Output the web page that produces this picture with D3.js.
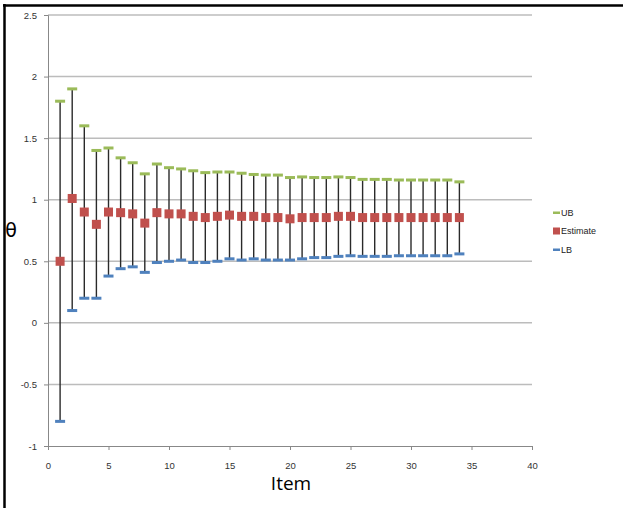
<!DOCTYPE html>
<html>
<head>
<meta charset="utf-8">
<script src="https://cdn.jsdelivr.net/npm/d3@7"></script>
<style>
  html, body { margin: 0; padding: 0; background: #fff; }
  svg { display: block; }
</style>
</head>
<body>
<script>
const items = d3.range(1, 35);
const ub = [1.8, 1.9, 1.6, 1.4, 1.42, 1.34, 1.30, 1.21, 1.29, 1.26, 1.25, 1.235, 1.22, 1.225, 1.225, 1.215, 1.205, 1.2, 1.2, 1.18, 1.185, 1.18, 1.18, 1.185, 1.18, 1.165, 1.165, 1.165, 1.16, 1.16, 1.16, 1.16, 1.16, 1.145];
const est = [0.5, 1.01, 0.9, 0.8, 0.9, 0.895, 0.885, 0.81, 0.895, 0.885, 0.885, 0.865, 0.855, 0.865, 0.875, 0.865, 0.865, 0.855, 0.855, 0.845, 0.855, 0.855, 0.855, 0.865, 0.865, 0.855, 0.855, 0.855, 0.855, 0.855, 0.855, 0.855, 0.855, 0.855];
const lb = [-0.8, 0.1, 0.2, 0.2, 0.38, 0.44, 0.455, 0.41, 0.49, 0.5, 0.51, 0.49, 0.49, 0.5, 0.52, 0.51, 0.52, 0.51, 0.51, 0.51, 0.52, 0.53, 0.53, 0.54, 0.545, 0.54, 0.54, 0.54, 0.545, 0.545, 0.545, 0.545, 0.545, 0.56];
const yTicks = [-1, -0.5, 0, 0.5, 1, 1.5, 2, 2.5];
const xTicks = [0, 5, 10, 15, 20, 25, 30, 35, 40];
const legendLabels = ["UB", "Estimate", "LB"];
const colors = { UB: "#9BBB59", Estimate: "#C0504D", LB: "#4F81BD" };

const W = 623, H = 508;
const svg = d3.select("body").append("svg").attr("width", W).attr("height", H);

const x = d3.scaleLinear().domain([0, 40]).range([48, 532]);
const y = d3.scaleLinear().domain([-1, 2.5]).range([446, 15]);

// frame
svg.append("line").attr("x1", 3).attr("x2", W).attr("y1", 5.5).attr("y2", 5.5).attr("stroke", "#000").attr("stroke-width", 2.5);
svg.append("line").attr("x1", 4.5).attr("x2", 4.5).attr("y1", 4).attr("y2", H).attr("stroke", "#000").attr("stroke-width", 2.5);

// gridlines
svg.append("g").selectAll("line").data(yTicks.filter(d => d > -1)).join("line")
  .attr("x1", x(0)).attr("x2", x(40))
  .attr("y1", d => y(d)).attr("y2", d => y(d))
  .attr("stroke", "#bcbcbc").attr("stroke-width", 1.5);

// y axis
const yAxis = d3.axisLeft(y).tickValues(yTicks).tickSize(4).tickPadding(7)
  .tickFormat(d => String(d));
const gy = svg.append("g").attr("transform", `translate(${x(0)},0)`).call(yAxis);
gy.select(".domain").attr("stroke", "#888");
gy.selectAll(".tick line").attr("stroke", "#888");
gy.selectAll("text").attr("font-family", "Liberation Sans, Arial, sans-serif").attr("font-size", 9.5).attr("fill", "#333");

// x axis
const xAxis = d3.axisBottom(x).tickValues(xTicks).tickSize(4).tickPadding(12);
const gx = svg.append("g").attr("transform", `translate(0,${y(-1)})`).call(xAxis);
gx.select(".domain").attr("stroke", "#888");
gx.selectAll(".tick line").attr("stroke", "#888");
gx.selectAll("text").attr("font-family", "Liberation Sans, Arial, sans-serif").attr("font-size", 9.5).attr("fill", "#333");

// error bars
const data = items.map((it, i) => ({ it, ub: ub[i], est: est[i], lb: lb[i] }));
svg.append("g").selectAll("line").data(data).join("line")
  .attr("x1", d => x(d.it)).attr("x2", d => x(d.it))
  .attr("y1", d => y(d.ub)).attr("y2", d => y(d.lb))
  .attr("stroke", "#2a2a2a").attr("stroke-width", 1.4);

// UB caps
svg.append("g").selectAll("rect").data(data).join("rect")
  .attr("x", d => x(d.it) - 5).attr("y", d => y(d.ub) - 1.5)
  .attr("width", 10).attr("height", 3).attr("fill", colors.UB);
// LB caps
svg.append("g").selectAll("rect").data(data).join("rect")
  .attr("x", d => x(d.it) - 5).attr("y", d => y(d.lb) - 1.5)
  .attr("width", 10).attr("height", 3).attr("fill", colors.LB);
// Estimates
svg.append("g").selectAll("rect").data(data).join("rect")
  .attr("x", d => x(d.it) - 4.5).attr("y", d => y(d.est) - 4.5)
  .attr("width", 9).attr("height", 9).attr("fill", colors.Estimate);

// legend
const leg = svg.append("g");
legendLabels.forEach((lab, i) => {
  const cy = 212.5 + i * 18.5;
  if (lab === "Estimate") {
    leg.append("rect").attr("x", 553).attr("y", cy - 3.5).attr("width", 7).attr("height", 7).attr("fill", colors[lab]);
  } else {
    leg.append("rect").attr("x", 553).attr("y", cy - 1).attr("width", 7).attr("height", 2.5).attr("fill", colors[lab]);
  }
  leg.append("text").attr("x", 561).attr("y", cy + 3.2)
    .attr("font-family", "Liberation Sans, Arial, sans-serif").attr("font-size", 9).attr("fill", "#222")
    .text(lab);
});

// axis titles
svg.append("text").attr("x", 11).attr("y", 237).attr("text-anchor", "middle")
  .attr("font-family", "DejaVu Sans, sans-serif").attr("font-size", 19).attr("fill", "#000").text("θ");
svg.append("text").attr("x", 291).attr("y", 490).attr("text-anchor", "middle")
  .attr("font-family", "Open Sans, sans-serif").attr("font-size", 19).attr("fill", "#000").text("Item");
</script>
</body>
</html>
